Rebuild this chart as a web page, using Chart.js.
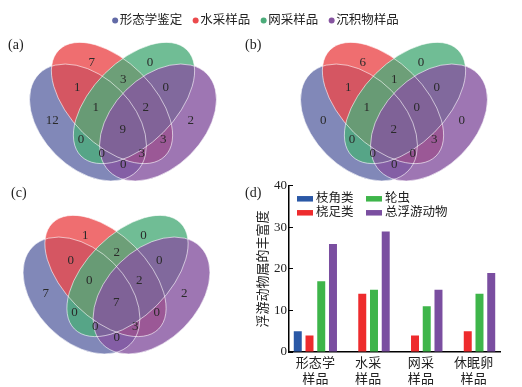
<!DOCTYPE html>
<html><head><meta charset="utf-8">
<script src="https://cdn.jsdelivr.net/npm/chart.js@4.4.1/dist/chart.umd.min.js"></script>
<style>
html,body{margin:0;padding:0;background:#fff;width:522px;height:387px;overflow:hidden;position:relative}
canvas{position:absolute}
.pl{position:absolute;font:14px "Liberation Serif",serif;color:#222;line-height:16px;white-space:nowrap}
</style></head><body>
<canvas id="va"></canvas>
<canvas id="vb"></canvas>
<canvas id="vc"></canvas>
<canvas id="bars"></canvas>
<canvas id="leg"></canvas>
<div class="pl" style="left:8px;top:37px">(a)</div>
<div class="pl" style="left:245px;top:37px">(b)</div>
<div class="pl" style="left:11px;top:185px">(c)</div>
<div class="pl" style="left:245px;top:185px">(d)</div>
<script>
// ---------------- data ----------------
const setNames = ['形态学鉴定', '水采样品', '网采样品', '沉积物样品'];
// region order: R, RG, G, BR, GP, B, P, BRG, RGP, BRGP, BG, RP, BGP, BRP, BP
// (B = 形态学鉴定, R = 水采样品, G = 网采样品, P = 沉积物样品)
const regionKeys = ['R','RG','G','BR','GP','B','P','BRG','RGP','BRGP','BG','RP','BGP','BRP','BP'];
const countsTotal   = [7, 3, 0, 1, 0, 12, 2, 1, 2, 9, 0, 3, 0, 3, 0];
const countsCopepod = [6, 1, 0, 1, 0, 0, 0, 1, 0, 2, 0, 3, 0, 0, 0];
const countsRotifer = [1, 2, 0, 0, 0, 7, 2, 0, 2, 7, 0, 0, 0, 3, 0];

const barCategories = [['形态学','样品'], ['水采','样品'], ['网采','样品'], ['休眠卵','样品']];
const barSeriesNames = ['枝角类', '桡足类', '轮虫', '总浮游动物'];
const cladocera = [5, 0, 0, 0];
const copepoda  = [4, 14, 4, 5];
const rotifera  = [17, 15, 11, 14];
const totalZoo  = [26, 29, 15, 19];
const yTicks = [0, 10, 20, 30, 40];
const yTitle = '浮游动物属的丰富度';

// ---------------- styles / layout ----------------
const FONT_FAMILY = '"Liberation Serif", "Noto Sans CJK SC", serif';
const TEXT_COLOR = '#222';
const SET_COLORS = ['rgb(98,106,166)', 'rgb(235,74,76)', 'rgb(76,172,122)', 'rgb(134,84,160)'];
const FILL_ALPHA = 0.8;
const BAR_COLORS = ['#2a58a6', '#ee2b2d', '#3eb54a', '#7a4ea0'];
// ellipse geometry in diagram units (1 unit = 100px, y up, origin = diagram centre)
const ELLIPSES = [
  {cx: -0.35, cy: 0.0,   a: 0.69, b: 0.455, rot: -45},
  {cx: -0.11, cy: 0.195, a: 0.75, b: 0.415, rot: -45},
  {cx:  0.11, cy: 0.195, a: 0.75, b: 0.415, rot: 45},
  {cx:  0.35, cy: 0.0,   a: 0.69, b: 0.455, rot: 45}
];
const REGION_POS = {
  R: [-0.313, 0.602], RG: [0.003, 0.432], G: [0.27, 0.602],
  BR: [-0.457, 0.352], GP: [0.427, 0.352],
  B: [-0.707, 0.018], P: [0.677, 0.018],
  BRG: [-0.273, 0.148], RGP: [0.227, 0.148], BRGP: [-0.003, -0.075],
  BG: [-0.42, -0.175], RP: [0.403, -0.175],
  BGP: [-0.213, -0.308], BRP: [0.187, -0.308], BP: [0.003, -0.425]
};
const PANELS = [
  {id: 'va', cx: 123, cy: 122.5, counts: countsTotal},
  {id: 'vb', cx: 394, cy: 122.5, counts: countsCopepod},
  {id: 'vc', cx: 116.5, cy: 295.5, counts: countsRotifer}
];
const PX_PER_UNIT = 100, VW = 220, VH = 180;

// ---------------- venn plugin ----------------
function ellipsePath(ctx, x, y, e) {
  const sx = x.getPixelForValue(1) - x.getPixelForValue(0);
  const sy = y.getPixelForValue(0) - y.getPixelForValue(1);
  ctx.save();
  ctx.translate(x.getPixelForValue(e.cx), y.getPixelForValue(e.cy));
  ctx.scale(sx, -sy);
  ctx.rotate(e.rot * Math.PI / 180);
  ctx.beginPath();
  ctx.ellipse(0, 0, e.a, e.b, 0, 0, Math.PI * 2);
  ctx.restore();
}
const vennPlugin = {
  id: 'vennShapes',
  beforeDatasetsDraw(chart) {
    const {ctx, scales: {x, y}} = chart;
    ELLIPSES.forEach((e, i) => {
      ellipsePath(ctx, x, y, e);
      ctx.save();
      ctx.globalAlpha = FILL_ALPHA;
      ctx.fillStyle = SET_COLORS[i];
      ctx.fill();
      ctx.restore();
    });
    ELLIPSES.forEach(e => {
      ellipsePath(ctx, x, y, e);
      ctx.save();
      ctx.strokeStyle = 'rgba(255,255,255,0.6)';
      ctx.lineWidth = 1;
      ctx.stroke();
      ctx.restore();
    });
  },
  afterDatasetsDraw(chart) {
    const {ctx} = chart;
    const meta = chart.getDatasetMeta(0);
    const ds = chart.data.datasets[0];
    ctx.save();
    ctx.font = '13px ' + FONT_FAMILY;
    ctx.fillStyle = '#2a2a2a';
    ctx.textAlign = 'center';
    ctx.textBaseline = 'middle';
    meta.data.forEach((pt, i) => ctx.fillText(String(ds.data[i].v), pt.x, pt.y));
    ctx.restore();
  }
};

PANELS.forEach(p => {
  const cv = document.getElementById(p.id);
  const left = Math.round(p.cx - VW / 2), top = Math.round(p.cy - VH / 2);
  cv.width = VW; cv.height = VH;
  cv.style.left = left + 'px'; cv.style.top = top + 'px';
  const xmin = (left - p.cx) / PX_PER_UNIT, ymax = (p.cy - top) / PX_PER_UNIT;
  new Chart(cv, {
    type: 'scatter',
    data: {
      datasets: [{
        label: 'regions',
        data: regionKeys.map((k, i) => ({x: REGION_POS[k][0], y: REGION_POS[k][1], v: p.counts[i]})),
        pointRadius: 0
      }]
    },
    options: {
      animation: false, responsive: false, maintainAspectRatio: false,
      layout: {padding: 0},
      scales: {
        x: {type: 'linear', display: false, min: xmin, max: xmin + VW / PX_PER_UNIT},
        y: {type: 'linear', display: false, min: ymax - VH / PX_PER_UNIT, max: ymax}
      },
      plugins: {legend: {display: false}, tooltip: {enabled: false}}
    },
    plugins: [vennPlugin]
  });
});

// ---------------- top legend ----------------
const topLegendPlugin = {
  id: 'topLegend',
  afterDraw(chart) {
    const {ctx} = chart;
    const R = 3, GAP = 4.7, SP = 13.3, Y = 20.5;
    ctx.save();
    ctx.font = '12.5px ' + FONT_FAMILY;
    const items = chart.data.datasets.map(d => ({label: d.label, color: d.backgroundColor, w: ctx.measureText(d.label).width}));
    let total = 0;
    items.forEach((it, i) => { total += R + GAP + it.w + (i < items.length - 1 ? SP - R : 0); });
    let x = chart.width / 2 - total / 2;
    ctx.textBaseline = 'middle';
    ctx.textAlign = 'left';
    items.forEach(it => {
      const cx = x + R;
      ctx.beginPath();
      ctx.arc(cx, Y, R, 0, Math.PI * 2);
      ctx.fillStyle = it.color;
      ctx.fill();
      ctx.fillStyle = TEXT_COLOR;
      ctx.fillText(it.label, cx + GAP, Y);
      x = cx + GAP + it.w + SP - R;
    });
    ctx.restore();
  }
};
(function () {
  const cv = document.getElementById('leg');
  cv.width = 511; cv.height = 34;
  cv.style.left = '0px'; cv.style.top = '0px';
  new Chart(cv, {
    type: 'scatter',
    data: {datasets: setNames.map((n, i) => ({label: n, data: [], backgroundColor: SET_COLORS[i]}))},
    options: {
      animation: false, responsive: false, maintainAspectRatio: false,
      layout: {padding: 0},
      scales: {x: {display: false}, y: {display: false}},
      plugins: {tooltip: {enabled: false}, legend: {display: false}}
    },
    plugins: [topLegendPlugin]
  });
})();

// ---------------- bar chart ----------------
const barLegendPlugin = {
  id: 'barLegend',
  afterDraw(chart) {
    const {ctx, chartArea} = chart;
    const layout = [[0, 2], [1, 3]];
    ctx.save();
    ctx.font = '12.5px ' + FONT_FAMILY;
    ctx.textBaseline = 'middle';
    ctx.textAlign = 'left';
    layout.forEach((row, r) => {
      row.forEach((di, c) => {
        const ds = chart.data.datasets[di];
        const bx = chartArea.left + 8 + c * 69;
        const cy = chartArea.top + 13 + r * 14;
        ctx.fillStyle = ds.backgroundColor;
        ctx.fillRect(bx, cy - 2.75, 16, 5.5);
        ctx.fillStyle = TEXT_COLOR;
        ctx.fillText(ds.label, bx + 19, cy);
      });
    });
    ctx.restore();
  }
};
(function () {
  const cv = document.getElementById('bars');
  cv.width = 263; cv.height = 215;
  cv.style.left = '254px'; cv.style.top = '172px';
  const series = [cladocera, copepoda, rotifera, totalZoo];
  new Chart(cv, {
    type: 'bar',
    data: {
      labels: barCategories,
      datasets: series.map((d, i) => ({label: barSeriesNames[i], data: d, backgroundColor: BAR_COLORS[i], borderWidth: 0}))
    },
    options: {
      animation: false, responsive: false, maintainAspectRatio: false,
      layout: {padding: {top: 10, right: 17, left: 0, bottom: 0}},
      datasets: {bar: {categoryPercentage: 0.89, barPercentage: 0.68}},
      scales: {
        x: {
          grid: {display: false, drawTicks: false},
          border: {display: true, color: '#000', width: 1.5},
          ticks: {color: TEXT_COLOR, font: {family: FONT_FAMILY, size: 13}, padding: 4, maxRotation: 0, autoSkip: false},
          afterFit(s) { s.height = 35; }
        },
        y: {
          min: yTicks[0], max: yTicks[yTicks.length - 1],
          ticks: {stepSize: yTicks[1] - yTicks[0], color: TEXT_COLOR, font: {family: FONT_FAMILY, size: 13}, padding: 6},
          grid: {display: true, drawOnChartArea: false, drawTicks: true, tickLength: -4, color: '#000', lineWidth: 1},
          border: {display: true, color: '#000', width: 1.5},
          title: {display: true, text: yTitle, color: TEXT_COLOR, font: {family: FONT_FAMILY, size: 13}, padding: {top: 2, bottom: 0}},
          afterFit(s) { s.width = 35; }
        }
      },
      plugins: {legend: {display: false}, tooltip: {enabled: false}}
    },
    plugins: [barLegendPlugin]
  });
})();
</script>
</body></html>
